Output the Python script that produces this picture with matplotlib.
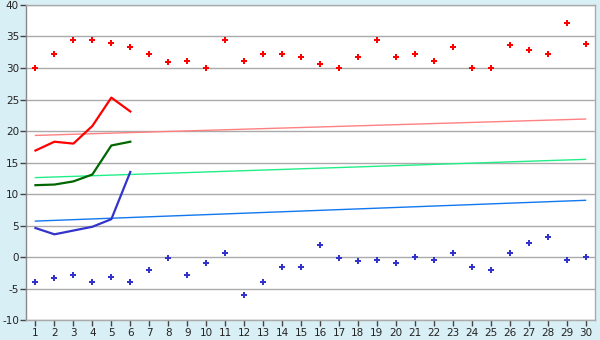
import numpy as np
import matplotlib.pyplot as plt

plt.rcParams['axes.unicode_minus'] = False

days = np.arange(1, 31)
t_max = [30.0, 32.2, 34.4, 34.4, 33.9, 33.3, 32.2, 30.9, 31.1, 30.0,
         34.4, 31.1, 32.2, 32.2, 31.7, 30.6, 30.0, 31.7, 34.4, 31.7,
         32.2, 31.1, 33.3, 30.0, 30.0, 33.6, 32.8, 32.2, 37.2, 33.8]
t_min = [-3.9, -3.4, -2.8, -3.9, -3.2, -3.9, -2.1, -0.2, -2.9, -1.0,
         0.6, -6.1, -3.9, -1.6, -1.6, 1.9, -0.2, -0.7, -0.5, -1.0,
         0.0, -0.5, 0.6, -1.6, -2.1, 0.6, 2.2, 3.1, -0.5, 0.0]
cur_days = [1, 2, 3, 4, 5, 6]
cur_max = [16.9, 18.3, 18.0, 20.8, 25.3, 23.1]
cur_mean = [11.4, 11.5, 12.0, 13.1, 17.7, 18.3]
cur_min = [4.6, 3.6, 4.2, 4.8, 6.0, 13.5]
norm_days = [1, 30]
norm_max = [19.3, 21.9]
norm_mean = [12.6, 15.5]
norm_min = [5.7, 9.0]

bg = '#d9eff6'
fig = plt.figure(figsize=(6, 3.4), dpi=100, facecolor=bg)
ax = fig.add_axes([0.0433, 0.0588, 0.9484, 0.9265])
ax.set_facecolor('white')

ax.set_xlim(0.5, 30.5)
ax.set_ylim(-10, 40)
ax.set_yticks(range(-10, 41, 5))
ax.set_xticks(days)
ax.grid(axis='y', color='#aaaaaa', lw=1)
ax.set_axisbelow(True)

ax.plot(norm_days, norm_max, color='#ff8080', lw=1)
ax.plot(norm_days, norm_mean, color='#22ee88', lw=1)
ax.plot(norm_days, norm_min, color='#1177ee', lw=1)

ax.plot(cur_days, cur_max, color='#ff0000', lw=1.6)
ax.plot(cur_days, cur_mean, color='#006600', lw=1.6)
ax.plot(cur_days, cur_min, color='#3333cc', lw=1.6)

ax.plot(days, t_max, 'P', color='#ff0000', ms=5, mew=0)
ax.plot(days, t_min, 'P', color='#3333cc', ms=5, mew=0)

for s in ax.spines.values():
    s.set_color('#aaaaaa')
    s.set_linewidth(1)
ax.spines['left'].set_color('#888888')
ax.tick_params(axis='both', colors='#444444', labelcolor='#222222',
               labelsize=7.5, length=4, width=1)
ax.tick_params(axis='x', pad=2)
ax.tick_params(axis='y', pad=1)

fig.savefig('out.png', dpi=100, facecolor=bg)
